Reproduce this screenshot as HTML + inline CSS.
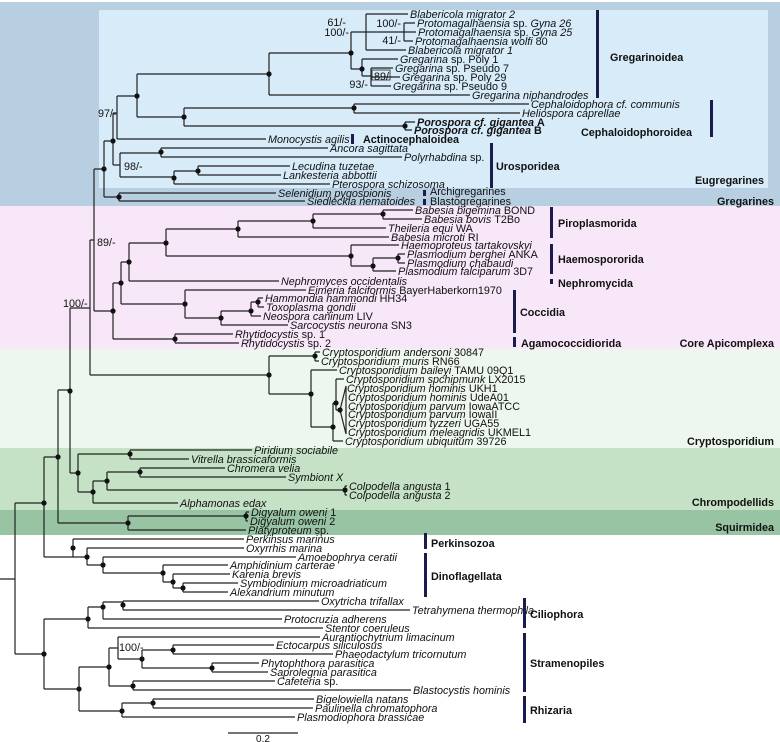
<!DOCTYPE html>
<html><head><meta charset="utf-8"><style>
html,body{margin:0;padding:0;background:#fff}
svg{display:block}
text{font-family:"Liberation Sans",sans-serif;font-size:10.8px;fill:#111}
.l{font-style:italic}
.u{font-style:normal}
.b{font-weight:bold;font-size:13.5px;font-style:normal}
.s{font-size:10px}
</style></head><body>
<svg width="780" height="742" viewBox="0 0 780 742" xmlns="http://www.w3.org/2000/svg">
<rect x="0" y="2" width="780" height="204" fill="#b8cfe2"/>
<rect x="99" y="10" width="669" height="178" fill="#d7ebf9"/>
<rect x="0" y="206" width="780" height="143" fill="#f8e7f8"/>
<rect x="0" y="349" width="780" height="99" fill="#eef7ed"/>
<rect x="0" y="448" width="780" height="62" fill="#c6e2c6"/>
<rect x="0" y="510" width="780" height="25" fill="#98c4a4"/>

<path fill="none" stroke="#222" stroke-width="1.2" d="
M0 579H15M15 503V654M15 503H44M15 654H44
M44 457V557M44 457H58M44 557H73
M58 390V523M58 390H70M58 523H128
M128 516V530M128 516H246M128 530H246M246 512V521M246 512H249M246 521H248
M70 308V473M70 308H90M70 473H78
M78 454V492M78 454H130M78 492H93
M130 450V459M130 450H252M130 459H189
M93 481V503M93 481H107M93 503H178
M107 472V490M107 472H140M107 490H345
M140 468V477M140 468H225M140 477H286
M345 486V495M345 486H347M345 495H347
M90 240V375M90 240H94M90 375H269
M94 169V311M94 169H104M94 311H113
M104 141V197M104 141H113M104 197H119
M119 193V201M119 193H276M119 201H305
M113 113V165M113 113H117M113 165H120
M117 96V139M117 96H137M117 139H266
M137 74V117M137 74H269M137 117H184
M269 53V95M269 53H351M269 95H470
M351 32V69M351 32H366M351 69H362
M366 14V50M366 14H408M366 32H404M366 50H406
M404 23V41M404 23H415M404 32H416M404 41H413
M362 59V76M362 59H398M362 76H371
M371 68V86M371 68H393M371 77H400M371 86H391
M184 108V126M184 108H354M184 126H405
M354 104V113M354 104H529M354 113H520
M405 122V130M405 122H415M405 130H412
M120 153V177M120 153H161M120 177H174
M161 148V157M161 148H328M161 157H402
M174 171V184M174 171H198M174 184H330
M198 166V175M198 166H290M198 175H281
M113 283V339M113 283H121M113 339H175
M121 262V304M121 262H129M121 304H185
M129 243V281M129 243H166M129 281H279
M166 229V256M166 229H238M166 256H351
M238 221V237M238 221H313M238 237H389
M313 214V228M313 214H383M313 228H386
M383 210V219M383 210H413M383 219H422
M351 245V266M351 245H399M351 266H373
M373 258V271M373 258H398M373 271H396
M398 254V263M398 254H405M398 263H405
M185 290V318M185 290H306M185 318H221
M221 311V325M221 311H251M221 325H288
M251 302V316M251 302H258M251 316H261
M258 298V307M258 298H263M258 307H264
M175 334V343M175 334H233M175 343H239
M269 356V394M269 356H315M269 394H311
M315 352V361M315 352H320M315 361H319
M311 370V427M311 370H337M311 427H333
M333 403V441M333 403H336M333 441H343
M336 379V410M336 379H344M336 410H340
M340 410L346 386L346 434Z
M73 539V557M73 539H244M73 557H87
M87 548V565M87 548H244M87 565H103
M103 557V573M103 557H296M103 573H163
M163 565V582M163 565H228M163 582H173
M173 574V588M173 574H230M173 588H183
M183 583V592M183 583H238M183 592H228
M44 619V689M44 619H88M44 689H79
M88 607V628M88 607H103M88 628H323
M103 602V619M103 602H123M103 619H282
M123 601V610M123 601H319M123 610H410
M79 667V711M79 667H109M79 711H122
M109 648V686M109 648H118M109 686H133
M118 637V659M118 637H320M118 659H142
M142 650V668M142 650H173M142 668H212
M173 645V654M173 645H274M173 654H333
M212 663V672M212 663H259M212 672H268
M133 681V690M133 681H275M133 690H411
M122 703V717M122 703H153M122 717H295
M153 699V708M153 699H314M153 708H313
M228 733H298"/>

<g fill="#111">
<circle cx="44" cy="503" r="2.6"/><circle cx="58" cy="457" r="2.6"/><circle cx="128" cy="523" r="2.6"/><circle cx="246" cy="516" r="2.6"/>
<circle cx="70" cy="391" r="2.6"/><circle cx="78" cy="473" r="2.6"/><circle cx="130" cy="454" r="2.6"/><circle cx="93" cy="492" r="2.6"/>
<circle cx="107" cy="481" r="2.6"/><circle cx="140" cy="472" r="2.6"/><circle cx="345" cy="490" r="2.6"/>
<circle cx="104" cy="169" r="2.6"/><circle cx="119" cy="197" r="2.6"/><circle cx="113" cy="141" r="2.6"/><circle cx="137" cy="96" r="2.6"/>
<circle cx="269" cy="74" r="2.6"/><circle cx="351" cy="53" r="2.6"/><circle cx="362" cy="69" r="2.6"/><circle cx="184" cy="117" r="2.6"/>
<circle cx="354" cy="108" r="2.6"/><circle cx="405" cy="126" r="2.6"/><circle cx="161" cy="152" r="2.6"/><circle cx="174" cy="178" r="2.6"/><circle cx="198" cy="171" r="2.6"/>
<circle cx="113" cy="311" r="2.6"/><circle cx="121" cy="283" r="2.6"/><circle cx="129" cy="262" r="2.6"/><circle cx="166" cy="243" r="2.6"/>
<circle cx="238" cy="229" r="2.6"/><circle cx="313" cy="221" r="2.6"/><circle cx="383" cy="214" r="2.6"/><circle cx="351" cy="256" r="2.6"/><circle cx="373" cy="266" r="2.6"/><circle cx="398" cy="258" r="2.6"/>
<circle cx="185" cy="304" r="2.6"/><circle cx="221" cy="318" r="2.6"/><circle cx="251" cy="311" r="2.6"/><circle cx="258" cy="302" r="2.6"/><circle cx="175" cy="339" r="2.6"/>
<circle cx="269" cy="375" r="2.6"/><circle cx="315" cy="356" r="2.6"/><circle cx="311" cy="394" r="2.6"/><circle cx="333" cy="427" r="2.6"/><circle cx="336" cy="403" r="2.6"/><circle cx="340" cy="410" r="2.6"/>
<circle cx="73" cy="548" r="2.6"/><circle cx="87" cy="557" r="2.6"/><circle cx="103" cy="565" r="2.6"/><circle cx="163" cy="573" r="2.6"/><circle cx="173" cy="582" r="2.6"/><circle cx="183" cy="588" r="2.6"/>
<circle cx="44" cy="654" r="2.6"/><circle cx="88" cy="619" r="2.6"/><circle cx="103" cy="607" r="2.6"/><circle cx="123" cy="605" r="2.6"/>
<circle cx="79" cy="689" r="2.6"/><circle cx="109" cy="667" r="2.6"/><circle cx="142" cy="659" r="2.6"/><circle cx="173" cy="650" r="2.6"/><circle cx="212" cy="668" r="2.6"/><circle cx="133" cy="686" r="2.6"/>
<circle cx="122" cy="711" r="2.6"/><circle cx="153" cy="703" r="2.6"/>
</g>

<g class="s">
<text x="346" y="26" text-anchor="end">61/-</text>
<text x="349" y="36" text-anchor="end">100/-</text>
<text x="401" y="27" text-anchor="end">100/-</text>
<text x="401" y="44" text-anchor="end">41/-</text>
<text x="368" y="88" text-anchor="end">93/-</text>
<text x="374" y="80">89/-</text>
<text x="98" y="117">97/-</text>
<text x="124" y="170">98/-</text>
<text x="97" y="246">89/-</text>
<text x="63" y="307">100/-</text>
<text x="119" y="651">100/-</text>
</g>
<rect x="372" y="70" width="18" height="10" fill="none" stroke="#222" stroke-width="0.8"/>

<g class="l">
<text x="410" y="18">Blabericola migrator 2</text>
<text x="417" y="27">Protomagalhaensia <tspan class="u">sp.</tspan> Gyna 26</text>
<text x="418" y="36">Protomagalhaensia <tspan class="u">sp.</tspan> Gyna 25</text>
<text x="415" y="45">Protomagalhaensia wolfi <tspan class="u">80</tspan></text>
<text x="408" y="54">Blabericola migrator 1</text>
<text x="400" y="63">Gregarina <tspan class="u">sp. Poly 1</tspan></text>
<text x="395" y="72">Gregarina <tspan class="u">sp. Pseudo 7</tspan></text>
<text x="402" y="81">Gregarina <tspan class="u">sp. Poly 29</tspan></text>
<text x="393" y="90">Gregarina <tspan class="u">sp. Pseudo 9</tspan></text>
<text x="472" y="99">Gregarina niphandrodes</text>
<text x="531" y="108">Cephaloidophora cf. communis</text>
<text x="522" y="117">Heliospora caprellae</text>
<text x="417" y="126" font-weight="bold">Porospora cf. gigantea <tspan class="u">A</tspan></text>
<text x="414" y="134" font-weight="bold">Porospora cf. gigantea <tspan class="u">B</tspan></text>
<text x="268" y="143">Monocystis agilis</text>
<text x="330" y="152">Ancora sagittata</text>
<text x="404" y="161">Polyrhabdina <tspan class="u">sp.</tspan></text>
<text x="292" y="170">Lecudina tuzetae</text>
<text x="283" y="179">Lankesteria abbottii</text>
<text x="332" y="188">Pterospora schizosoma</text>
<text x="278" y="197">Selenidium pygospionis</text>
<text x="307" y="205">Siedleckia nematoides</text>
<text x="415" y="214">Babesia bigemina <tspan class="u">BOND</tspan></text>
<text x="424" y="223">Babesia bovis <tspan class="u">T2Bo</tspan></text>
<text x="388" y="232">Theileria equi <tspan class="u">WA</tspan></text>
<text x="391" y="241">Babesia microti <tspan class="u">RI</tspan></text>
<text x="401" y="249">Haemoproteus tartakovskyi</text>
<text x="407" y="258">Plasmodium berghei <tspan class="u">ANKA</tspan></text>
<text x="407" y="267">Plasmodium chabaudi</text>
<text x="398" y="275">Plasmodium falciparum <tspan class="u">3D7</tspan></text>
<text x="281" y="285">Nephromyces occidentalis</text>
<text x="308" y="294">Eimeria falciformis <tspan class="u">BayerHaberkorn1970</tspan></text>
<text x="265" y="302">Hammondia hammondi <tspan class="u">HH34</tspan></text>
<text x="266" y="311">Toxoplasma gondii</text>
<text x="263" y="320">Neospora caninum <tspan class="u">LIV</tspan></text>
<text x="290" y="329">Sarcocystis neurona <tspan class="u">SN3</tspan></text>
<text x="235" y="338">Rhytidocystis <tspan class="u">sp. 1</tspan></text>
<text x="241" y="347">Rhytidocystis <tspan class="u">sp. 2</tspan></text>
<text x="322" y="356">Cryptosporidium andersoni <tspan class="u">30847</tspan></text>
<text x="321" y="365">Cryptosporidium muris <tspan class="u">RN66</tspan></text>
<text x="339" y="374">Cryptosporidium baileyi <tspan class="u">TAMU 09Q1</tspan></text>
<text x="346" y="383">Cryptosporidium spchipmunk <tspan class="u">LX2015</tspan></text>
<text x="347" y="392">Cryptosporidium hominis <tspan class="u">UKH1</tspan></text>
<text x="348" y="401">Cryptosporidium hominis <tspan class="u">UdeA01</tspan></text>
<text x="348" y="410">Cryptosporidium parvum <tspan class="u">IowaATCC</tspan></text>
<text x="348" y="418">Cryptosporidium parvum <tspan class="u">IowaII</tspan></text>
<text x="348" y="427">Cryptosporidium tyzzeri <tspan class="u">UGA55</tspan></text>
<text x="348" y="436">Cryptosporidium meleagridis <tspan class="u">UKMEL1</tspan></text>
<text x="345" y="445">Cryptosporidium ubiquitum <tspan class="u">39726</tspan></text>
<text x="254" y="454">Piridium sociabile</text>
<text x="191" y="463">Vitrella brassicaformis</text>
<text x="227" y="472">Chromera velia</text>
<text x="288" y="481">Symbiont X</text>
<text x="349" y="490">Colpodella angusta <tspan class="u">1</tspan></text>
<text x="349" y="499">Colpodella angusta <tspan class="u">2</tspan></text>
<text x="180" y="507">Alphamonas edax</text>
<text x="251" y="516">Digyalum oweni <tspan class="u">1</tspan></text>
<text x="250" y="525">Digyalum oweni <tspan class="u">2</tspan></text>
<text x="248" y="534">Platyproteum <tspan class="u">sp.</tspan></text>
<text x="246" y="543">Perkinsus marinus</text>
<text x="246" y="552">Oxyrrhis marina</text>
<text x="298" y="561">Amoebophrya ceratii</text>
<text x="230" y="569">Amphidinium carterae</text>
<text x="232" y="578">Karenia brevis</text>
<text x="240" y="587">Symbiodinium microadriaticum</text>
<text x="230" y="596">Alexandrium minutum</text>
<text x="321" y="605">Oxytricha trifallax</text>
<text x="412" y="614">Tetrahymena thermophila</text>
<text x="284" y="623">Protocruzia adherens</text>
<text x="325" y="632">Stentor coeruleus</text>
<text x="322" y="641">Aurantiochytrium limacinum</text>
<text x="276" y="649">Ectocarpus siliculosus</text>
<text x="335" y="658">Phaeodactylum tricornutum</text>
<text x="261" y="667">Phytophthora parasitica</text>
<text x="270" y="676">Saprolegnia parasitica</text>
<text x="277" y="685">Cafeteria <tspan class="u">sp.</tspan></text>
<text x="413" y="694">Blastocystis hominis</text>
<text x="316" y="703">Bigelowiella natans</text>
<text x="315" y="712">Paulinella chromatophora</text>
<text x="297" y="721">Plasmodiophora brassicae</text>
</g>
<text x="263" y="742" text-anchor="middle" class="s">0.2</text>

<g fill="#1b1b4d">
<rect x="596" y="10" width="3" height="88"/>
<rect x="710" y="100" width="3" height="37"/>
<rect x="351" y="134" width="3" height="10"/>
<rect x="490" y="143" width="3" height="45"/>
<rect x="423" y="190" width="3" height="6"/>
<rect x="423" y="199" width="3" height="6"/>
<rect x="550" y="207" width="3" height="31"/>
<rect x="550" y="244" width="3" height="30"/>
<rect x="550" y="279" width="3" height="5"/>
<rect x="513" y="290" width="3" height="43"/>
<rect x="513" y="337" width="3" height="10"/>
<rect x="424" y="533" width="3" height="16"/>
<rect x="424" y="553" width="3" height="44"/>
<rect x="523" y="598" width="3" height="30"/>
<rect x="523" y="633" width="3" height="59"/>
<rect x="523" y="696" width="3" height="27"/>
</g>
<g class="b">
<text x="610" y="61">Gregarinoidea</text>
<text x="581" y="136">Cephaloidophoroidea</text>
<text x="496" y="170">Urosporidea</text>
<text x="764" y="184" text-anchor="end">Eugregarines</text>
<text x="774" y="205" text-anchor="end">Gregarines</text>
<text x="558" y="227">Piroplasmorida</text>
<text x="558" y="263">Haemospororida</text>
<text x="558" y="287">Nephromycida</text>
<text x="520" y="316">Coccidia</text>
<text x="521" y="347">Agamococcidiorida</text>
<text x="774" y="347" text-anchor="end">Core Apicomplexa</text>
<text x="774" y="445" text-anchor="end">Cryptosporidium</text>
<text x="774" y="506" text-anchor="end">Chrompodellids</text>
<text x="774" y="531" text-anchor="end">Squirmidea</text>
<text x="431" y="547">Perkinsozoa</text>
<text x="431" y="580">Dinoflagellata</text>
<text x="530" y="618">Ciliophora</text>
<text x="530" y="667">Stramenopiles</text>
<text x="530" y="714">Rhizaria</text>
</g>
<text x="363" y="143" font-weight="bold" font-size="11px">Actinocephaloidea</text>
<g font-size="11px" style="font-family:'Liberation Sans',sans-serif">
<text x="430" y="195">Archigregarines</text>
<text x="430" y="205">Blastogregarines</text>
</g>
</svg>
</body></html>
